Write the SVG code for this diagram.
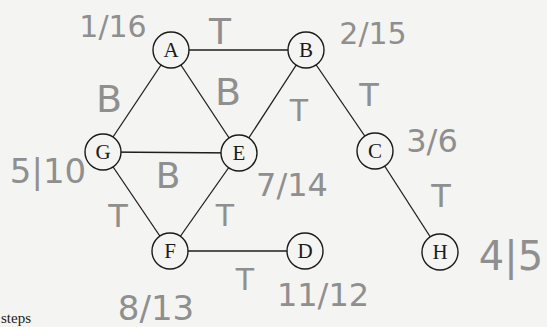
<svg xmlns="http://www.w3.org/2000/svg" width="547" height="327" viewBox="0 0 547 327">
<style>
.edge{stroke:#1e1e1e;stroke-width:1.3;fill:none}
.node circle{fill:#f4f4f3;stroke:#1a1a1a;stroke-width:1.4}
.node text{font-family:"Liberation Serif","Times New Roman",serif;font-size:21px;fill:#1a1a1a;text-anchor:middle}
.hw{font-family:"DejaVu Sans","Liberation Sans",sans-serif;fill:#8f8f8f;text-anchor:middle}
</style>
<rect width="547" height="327" fill="#f4f4f3"/>
<g id="connectors">
<line class="edge" x1="171" y1="50" x2="306" y2="50"/>
<line class="edge" x1="171" y1="50" x2="103" y2="152"/>
<line class="edge" x1="171" y1="50" x2="239" y2="153"/>
<line class="edge" x1="306" y1="50" x2="239" y2="153"/>
<line class="edge" x1="306" y1="50" x2="375" y2="151"/>
<line class="edge" x1="103" y1="152" x2="239" y2="153"/>
<line class="edge" x1="103" y1="152" x2="170" y2="251"/>
<line class="edge" x1="239" y1="153" x2="170" y2="251"/>
<line class="edge" x1="170" y1="251" x2="305" y2="251"/>
<line class="edge" x1="375" y1="151" x2="440" y2="252"/>
</g>
<g id="node-A" class="node"><circle cx="171" cy="50" r="18"/><text x="171" y="57">A</text></g>
<g id="node-B" class="node"><circle cx="306" cy="50" r="18"/><text x="306" y="57">B</text></g>
<g id="node-G" class="node"><circle cx="103" cy="152" r="18"/><text x="103" y="159">G</text></g>
<g id="node-E" class="node"><circle cx="239" cy="153" r="18"/><text x="239" y="160">E</text></g>
<g id="node-C" class="node"><circle cx="375" cy="151" r="18"/><text x="375" y="158">C</text></g>
<g id="node-F" class="node"><circle cx="170" cy="251" r="18"/><text x="170" y="258">F</text></g>
<g id="node-D" class="node"><circle cx="305" cy="251" r="18"/><text x="305" y="258">D</text></g>
<g id="node-H" class="node"><circle cx="440" cy="252" r="18"/><text x="440" y="259">H</text></g>
<g id="annotations">
<text class="hw" x="113" y="37" font-size="30">1/16</text>
<text class="hw" x="220" y="44" font-size="36">T</text>
<text class="hw" x="373" y="44" font-size="30">2/15</text>
<text class="hw" x="109" y="112" font-size="38">B</text>
<text class="hw" x="228" y="105" font-size="38">B</text>
<text class="hw" x="299" y="121" font-size="30">T</text>
<text class="hw" x="369" y="106" font-size="32">T</text>
<text class="hw" x="432" y="152" font-size="32">3/6</text>
<text class="hw" x="48" y="183" font-size="34">5|10</text>
<text class="hw" x="168" y="188" font-size="36">B</text>
<text class="hw" x="292" y="196" font-size="32">7/14</text>
<text class="hw" x="441" y="207" font-size="32">T</text>
<text class="hw" x="118" y="227" font-size="32">T</text>
<text class="hw" x="225" y="226" font-size="30">T</text>
<text class="hw" x="245" y="290" font-size="30">T</text>
<text class="hw" x="156" y="320" font-size="34">8/13</text>
<text class="hw" x="323" y="306" font-size="32">11/12</text>
<text class="hw" x="511" y="270" font-size="40">4|5</text>
</g>
<text x="1" y="323" font-family="Liberation Serif, serif" font-size="15" fill="#1a1a1a">steps</text>
</svg>
